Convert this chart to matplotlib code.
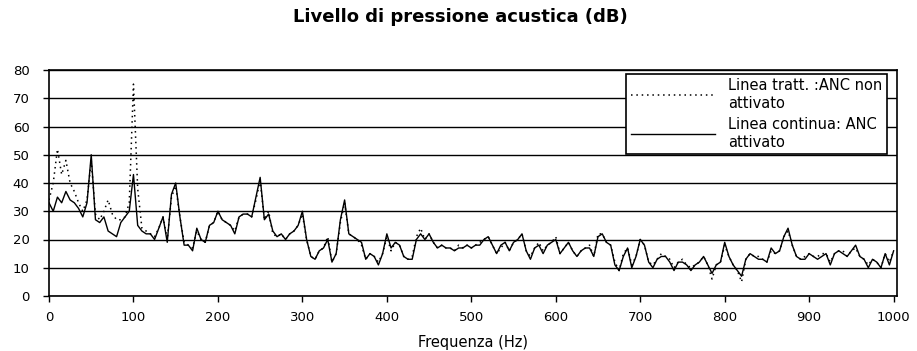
import matplotlib.pyplot as plt
import numpy as np

# frequency grid (Hz), one reading every 5 Hz
freq = np.arange(0, 1001, 5)

# ANC attivato (solid line), dB
anc_on = [
    33, 30, 35, 33, 37, 34, 33, 31, 28, 33,
    50, 27, 26, 28, 23, 22, 21, 26, 28, 30,
    43, 25, 23, 22, 22, 20, 24, 28, 19, 36,
    40, 28, 18, 18, 16, 24, 20, 19, 25, 26,
    30, 27, 26, 25, 22, 28, 29, 29, 28, 35,
    42, 27, 29, 23, 21, 22, 20, 22, 23, 25,
    30, 20, 14, 13, 16, 17, 20, 12, 15, 27,
    34, 22, 21, 20, 19, 13, 15, 14, 11, 15,
    22, 17, 19, 18, 14, 13, 13, 20, 22, 20,
    22, 19, 17, 18, 17, 17, 16, 17, 17, 18,
    17, 18, 18, 20, 21, 18, 15, 18, 19, 16,
    19, 20, 22, 16, 13, 17, 18, 15, 18, 19,
    20, 15, 17, 19, 16, 14, 16, 17, 17, 14,
    21, 22, 19, 18, 11, 9, 14, 17, 10, 14,
    20, 18, 12, 10, 13, 14, 14, 12, 9, 12,
    12, 11, 9, 11, 12, 14, 11, 8, 11, 12,
    19, 14, 11, 9, 7, 13, 15, 14, 13, 13,
    12, 17, 15, 16, 21, 24, 18, 14, 13, 13,
    15, 14, 13, 14, 15, 11, 15, 16, 15, 14,
    16, 18, 14, 13, 10, 13, 12, 10, 15, 11,
    16,
]

# ANC non attivato (dotted line), dB
anc_off = [
    34, 40, 52, 43, 48, 40, 37, 33, 30, 34,
    48, 29, 27, 30, 34, 29, 27, 27, 28, 33,
    75, 38, 24, 23, 22, 21, 24, 28, 20, 35,
    39, 28, 19, 18, 17, 23, 20, 19, 25, 26,
    30, 27, 26, 25, 23, 28, 29, 29, 28, 34,
    41, 27, 30, 22, 21, 22, 20, 22, 23, 25,
    29, 20, 14, 13, 16, 17, 21, 12, 15, 26,
    33, 22, 21, 20, 18, 13, 15, 14, 12, 15,
    21, 16, 19, 18, 14, 13, 14, 21, 24, 20,
    22, 19, 17, 18, 17, 17, 16, 18, 17, 18,
    17, 18, 19, 20, 21, 18, 15, 17, 19, 16,
    19, 20, 22, 16, 14, 17, 19, 16, 18, 19,
    21, 15, 17, 19, 16, 14, 16, 17, 18, 14,
    22, 22, 19, 18, 12, 9, 15, 17, 11, 14,
    20, 18, 12, 11, 13, 15, 14, 13, 10, 12,
    13, 11, 10, 11, 12, 14, 11, 6, 11, 12,
    18, 14, 11, 9, 5, 13, 15, 14, 14, 13,
    12, 16, 15, 16, 21, 23, 18, 14, 13, 14,
    15, 14, 14, 15, 15, 12, 15, 16, 16, 14,
    16, 17, 14, 13, 11, 13, 12, 10, 15, 12,
    16,
]

x_ticks = list(range(0, 1001, 100))
y_ticks = list(range(0, 81, 10))

title = "Livello di pressione acustica (dB)"
x_label = "Frequenza (Hz)"
label_off = "Linea tratt. :ANC non\nattivato"
label_on = "Linea continua: ANC\nattivato"

plt.rcParams['font.family'] = ['DejaVu Sans']

fig = plt.figure(figsize=(9.17, 3.51), dpi=100)
ax = fig.add_axes([49 / 917, 1 - 296 / 351, 848 / 917, 226 / 351])

ax.plot(freq, anc_off, color='black', linewidth=1.1, linestyle=(0, (1, 2.5)), label=label_off)
ax.plot(freq, anc_on, color='black', linewidth=1.0, label=label_on)

ax.set_xlim(0, 1004)
ax.set_ylim(0, 80)
ax.set_xticks(x_ticks)
ax.set_yticks(y_ticks)
ax.yaxis.grid(True, color='black', linewidth=1.0)
ax.set_axisbelow(True)
for sp in ax.spines.values():
    sp.set_color('black')
    sp.set_linewidth(1.2)
ax.tick_params(direction='out', length=4, width=1, labelsize=9.5)
ax.tick_params(axis='y', pad=10)
ax.tick_params(axis='x', pad=7)

fig.text(460 / 917, 1 - 17 / 351, title, ha='center', va='center', fontsize=13, fontweight='bold')
fig.text(473 / 917, 1 - 342 / 351, x_label, ha='center', va='center', fontsize=10.5)

leg = ax.legend(loc='upper right', bbox_to_anchor=(887 / 917, 1 - 74 / 351),
                bbox_transform=fig.transFigure, borderaxespad=0, fontsize=10.5,
                handlelength=5.8, handletextpad=0.9, fancybox=False, framealpha=1,
                edgecolor='black', borderpad=0.3, labelspacing=0.45)
leg.get_frame().set_linewidth(1.2)

fig.savefig('out.png', dpi=100)
